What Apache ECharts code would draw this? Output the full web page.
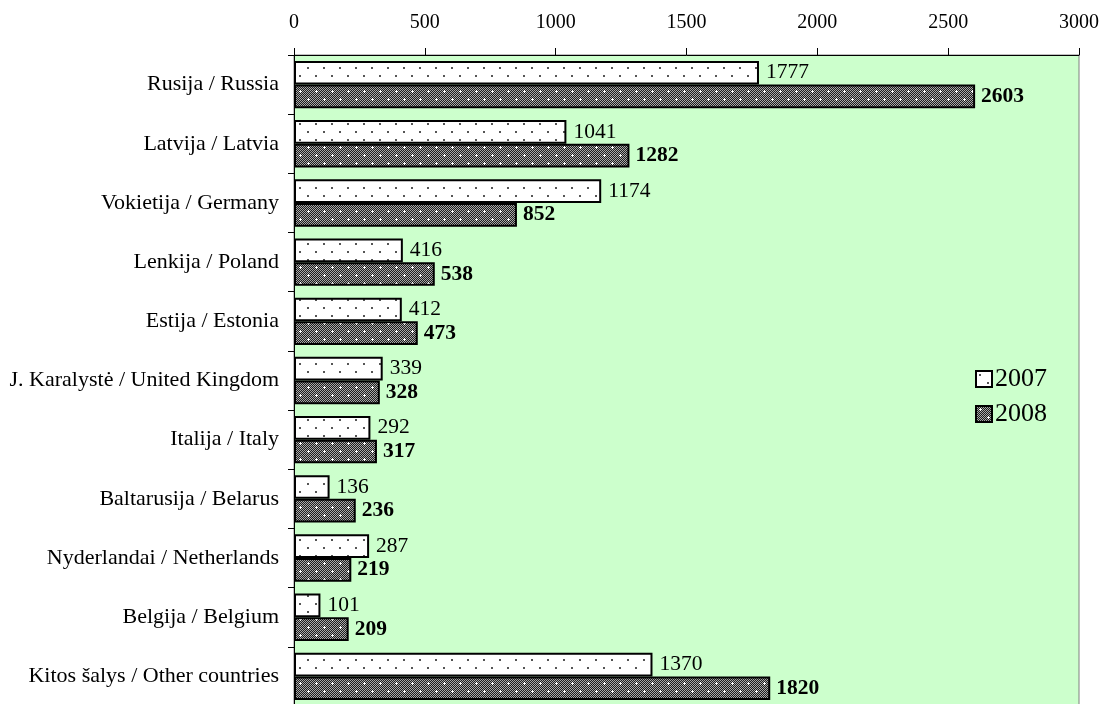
<!DOCTYPE html>
<html><head><meta charset="utf-8">
<script src="https://cdn.jsdelivr.net/npm/echarts@6/dist/echarts.min.js"></script>
<style>html,body{margin:0;padding:0;background:#fff}#c{width:1104px;height:704px}</style>
</head><body><div id="c"></div>
<script>
const categories = ['Rusija / Russia','Latvija / Latvia','Vokietija / Germany','Lenkija / Poland','Estija / Estonia','J. Karalystė / United Kingdom','Italija / Italy','Baltarusija / Belarus','Nyderlandai / Netherlands','Belgija / Belgium','Kitos šalys / Other countries'];
const values2007 = [1777,1041,1174,416,412,339,292,136,287,101,1370];
const values2008 = [2603,1282,852,538,473,328,317,236,219,209,1820];
const seriesNames = ['2007','2008'];
const xTicks = [0,500,1000,1500,2000,2500,3000];

function dotPattern(){
  const c=document.createElement('canvas');c.width=16;c.height=16;
  const g=c.getContext('2d');g.fillStyle='#fff';g.fillRect(0,0,16,16);
  g.fillStyle='#555';
  g.fillRect(3,3,2,2);g.fillRect(11,11,2,2);
  return c;
}
function hatchPattern(){
  const c=document.createElement('canvas');c.width=16;c.height=16;
  const g=c.getContext('2d');
  for(let y=0;y<16;y++)for(let x=0;x<16;x++){g.fillStyle=((x+y)%2)?'#1e1e1e':'#a8a8a8';g.fillRect(x,y,1,1);}
  g.fillStyle='#fff';
  [[4,3],[12,11]].forEach(([x,y])=>{g.fillRect(x-1,y,3,1);g.fillRect(x,y-1,1,3);});
  return c;
}
const chart=echarts.init(document.getElementById('c'));
const font='"Liberation Serif","Times New Roman",serif';
chart.setOption({
  animation:false,
  textStyle:{fontFamily:font},
  grid:{left:294,top:55,right:25,height:651,outerBoundsMode:'none',show:true,backgroundColor:'#ccffcc',borderColor:'#808080',borderWidth:1},
  legend:{orient:'vertical',left:970,top:361,itemWidth:16,itemHeight:16,itemGap:9,icon:'rect',
    itemStyle:{borderColor:'#000',borderWidth:2},
    textStyle:{fontFamily:font,fontSize:26,color:'#000',padding:[0,0,0,-2]},data:seriesNames},
  xAxis:{type:'value',position:'top',min:0,max:3000,interval:500,
    axisLine:{show:true,lineStyle:{color:'#000',width:1}},
    axisTick:{show:true,inside:false,length:7,lineStyle:{color:'#000'}},
    axisLabel:{fontFamily:font,fontSize:20,color:'#000',margin:22,formatter:v=>xTicks.includes(v)?String(v):''},
    splitLine:{show:false}},
  yAxis:{type:'category',inverse:true,data:categories,
    axisLine:{show:true,lineStyle:{color:'#000',width:1}},
    axisTick:{show:true,length:6,lineStyle:{color:'#000'}},
    axisLabel:{fontFamily:font,fontSize:22,color:'#000',margin:15}},
  series:[
    {name:seriesNames[0],type:'bar',data:values2007,barGap:'0%',barCategoryGap:'20%',
      itemStyle:{color:{image:dotPattern(),repeat:'repeat'},borderColor:'#000',borderWidth:2},
      label:{show:true,position:'right',distance:7,fontFamily:font,fontSize:21.5,color:'#000'}},
    {name:seriesNames[1],type:'bar',data:values2008,barGap:'0%',barCategoryGap:'20%',
      itemStyle:{color:{image:hatchPattern(),repeat:'repeat'},borderColor:'#000',borderWidth:2},
      label:{show:true,position:'right',distance:6,fontFamily:font,fontSize:21.5,fontWeight:'bold',color:'#000'}}
  ]
});
</script></body></html>
